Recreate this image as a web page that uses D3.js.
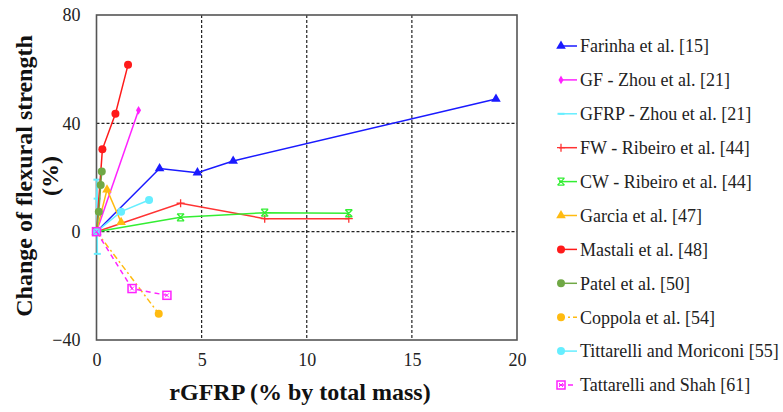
<!DOCTYPE html>
<html><head><meta charset="utf-8">
<script src="https://cdn.jsdelivr.net/npm/d3@7"></script>
<style>body{margin:0;background:#fff;} svg{display:block;}</style>
</head><body>
<script>
// ---- data ----
const seriesNames = ["Farinha et al. [15]","GF - Zhou et al. [21]","GFRP - Zhou et al. [21]","FW - Ribeiro et al. [44]","CW - Ribeiro et al. [44]","Garcia et al. [47]","Mastali et al. [48]","Patel et al. [50]","Coppola et al. [54]","Tittarelli and Moriconi [55]","Tattarelli and Shah [61]"];
const farinhaX = [0, 3.0, 4.8, 6.5, 19.0];
const farinhaY = [0, 23.3, 21.8, 26.1, 49.0];
const gfZhouX = [0, 2.0];
const gfZhouY = [0, 44.8];
const gfrpZhouX = [0, 0.02, 0.03, 0.04];
const gfrpZhouY = [0, 19.2, 12.2, -8.2];
const fwRibeiroX = [0, 4.0, 8.0, 12.0];
const fwRibeiroY = [0, 10.5, 4.8, 4.8];
const cwRibeiroX = [0, 4.0, 8.0, 12.0];
const cwRibeiroY = [0, 5.3, 7.0, 6.8];
const garciaX = [0, 0.5, 1.17];
const garciaY = [0, 15.5, 3.5];
const mastaliX = [0, 0.28, 0.9, 1.5];
const mastaliY = [0, 30.4, 43.5, 61.6];
const patelX = [0, 0.11, 0.2, 0.25];
const patelY = [0, 7.4, 17.2, 22.2];
const coppolaX = [0, 2.96];
const coppolaY = [0, -30.3];
const tittarelliX = [0, 1.17, 2.5];
const tittarelliY = [0, 7.4, 11.7];
const tattarelliX = [0, 1.69, 3.35];
const tattarelliY = [0, -21.0, -23.5];
const xTicks = [0, 5, 10, 15, 20];
const yTicks = [-40, 0, 40, 80];

const seriesX = [farinhaX, gfZhouX, gfrpZhouX, fwRibeiroX, cwRibeiroX, garciaX, mastaliX, patelX, coppolaX, tittarelliX, tattarelliX];
const seriesY = [farinhaY, gfZhouY, gfrpZhouY, fwRibeiroY, cwRibeiroY, garciaY, mastaliY, patelY, coppolaY, tittarelliY, tattarelliY];
const styles = [
  {color:"#1a1aff", marker:"tri", dash:null},
  {color:"#ff22ff", marker:"diamond", dash:null},
  {color:"#66eeff", marker:"dash", dash:null},
  {color:"#ff3333", marker:"plus", dash:null},
  {color:"#33ee33", marker:"xstar", dash:null},
  {color:"#ffbb11", marker:"tri", dash:null},
  {color:"#ff1a1a", marker:"circle", dash:null},
  {color:"#70a845", marker:"circle", dash:null},
  {color:"#ffbb11", marker:"circle", dash:"6,3,2,3"},
  {color:"#66eeff", marker:"circle", dash:null},
  {color:"#ff22ff", marker:"sqx", dash:"5,4"}
];

const W = 783, H = 412;
const m = {left:96.5, right:517, top:15, bottom:340};
const svg = d3.select("body").append("svg").attr("width", W).attr("height", H);
const x = d3.scaleLinear().domain([0,20]).range([m.left, m.right]);
const y = d3.scaleLinear().domain([-40,80]).range([m.bottom, m.top]);
const font = "'Liberation Serif','Times New Roman',serif";

// grid
const grid = svg.append("g");
[5,10,15].forEach(v => grid.append("line").attr("x1",x(v)).attr("x2",x(v)).attr("y1",m.top).attr("y2",m.bottom)
  .attr("stroke","#222").attr("stroke-width",1.2).attr("stroke-dasharray","3,2"));
[0,40].forEach(v => grid.append("line").attr("x1",m.left).attr("x2",m.right).attr("y1",y(v)).attr("y2",y(v))
  .attr("stroke","#222").attr("stroke-width",1.2).attr("stroke-dasharray","3,2"));

// axes
const xAxis = svg.append("g").attr("transform",`translate(0,${m.bottom})`)
  .call(d3.axisBottom(x).tickValues(xTicks).tickSize(0).tickPadding(13));
const yAxis = svg.append("g").attr("transform",`translate(${m.left},0)`)
  .call(d3.axisLeft(y).tickValues(yTicks).tickSize(0).tickPadding(16));
[xAxis,yAxis].forEach(a => { a.attr("font-family",font); a.select(".domain").remove(); a.selectAll("text").attr("font-family",font).attr("font-size",18).attr("fill","#222"); });

svg.append("rect").attr("x",m.left).attr("y",m.top).attr("width",m.right-m.left).attr("height",m.bottom-m.top)
  .attr("fill","none").attr("stroke","#555").attr("stroke-width",1.6);

function drawMarker(g, type, cx, cy, color){
  if(type==="tri"){
    g.append("path").attr("d", d3.symbol(d3.symbolTriangle, 40)()).attr("transform",`translate(${cx},${cy})`).attr("fill",color);
  } else if(type==="diamond"){
    g.append("path").attr("d", d3.symbol(d3.symbolDiamond, 22)()).attr("transform",`translate(${cx},${cy})`).attr("fill",color);
  } else if(type==="circle"){
    g.append("circle").attr("cx",cx).attr("cy",cy).attr("r",4).attr("fill",color);
  } else if(type==="dash"){
    g.append("line").attr("x1",cx-3.5).attr("x2",cx+3.5).attr("y1",cy).attr("y2",cy).attr("stroke",color).attr("stroke-width",2);
  } else if(type==="plus"){
    g.append("path").attr("d",`M${cx-4},${cy}H${cx+4}M${cx},${cy-4}V${cy+4}`).attr("stroke",color).attr("stroke-width",1.3);
  } else if(type==="xstar"){
    g.append("path").attr("d",`M${cx-3.5},${cy-3.5}L${cx+3.5},${cy+3.5}M${cx-3.5},${cy+3.5}L${cx+3.5},${cy-3.5}M${cx-3.5},${cy-3.5}H${cx+3.5}M${cx-3.5},${cy+3.5}H${cx+3.5}`).attr("stroke",color).attr("stroke-width",1.3);
  } else if(type==="sqx"){
    g.append("rect").attr("x",cx-4).attr("y",cy-4).attr("width",8).attr("height",8).attr("fill","none").attr("stroke",color).attr("stroke-width",1.5);
    g.append("path").attr("d",`M${cx-2},${cy-2}L${cx+2},${cy+2}M${cx-2},${cy+2}L${cx+2},${cy-2}`).attr("stroke",color).attr("stroke-width",1);
  }
}

const line = d3.line().x(d=>x(d[0])).y(d=>y(d[1]));
const plot = svg.append("g");
seriesX.forEach((xs,i) => {
  const st = styles[i];
  const pts = xs.map((v,j)=>[v, seriesY[i][j]]);
  plot.append("path").attr("d", line(pts)).attr("fill","none").attr("stroke",st.color).attr("stroke-width",1.5)
    .attr("stroke-dasharray", st.dash);
  pts.forEach(p => drawMarker(plot, st.marker, x(p[0]), y(p[1]), st.color));
});

// legend
const lg = svg.append("g");
seriesNames.forEach((name,i) => {
  const st = styles[i];
  const ly = 46 + i*33.9;
  lg.append("line").attr("x1",559).attr("x2",577).attr("y1",ly).attr("y2",ly).attr("stroke",st.color).attr("stroke-width",1.5).attr("stroke-dasharray",st.dash);
  drawMarker(lg, st.marker, 561, ly, st.color);
  lg.append("text").attr("x",580).attr("y",ly).attr("dy","0.35em").attr("font-family",font).attr("font-size",18).attr("fill","#222").text(name);
});

// titles
svg.append("text").attr("x",300).attr("y",400).attr("text-anchor","middle").attr("font-family",font).attr("font-weight","bold")
  .attr("font-size",24).attr("fill","#111").text("rGFRP (% by total mass)");
const yt = svg.append("text").attr("transform",`translate(0,176) rotate(-90)`).attr("text-anchor","middle").attr("font-family",font)
  .attr("font-weight","bold").attr("font-size",24).attr("fill","#111");
yt.append("tspan").attr("x",0).attr("y",32).text("Change of flexural strength");
yt.append("tspan").attr("x",0).attr("y",58).text("(%)");
</script>
</body></html>
